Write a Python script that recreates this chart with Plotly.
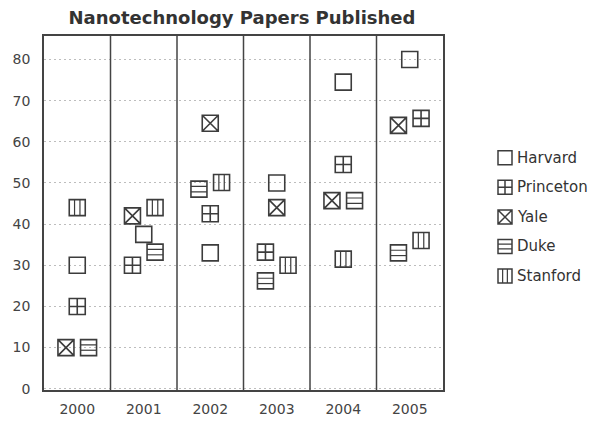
import plotly.graph_objects as go

# ---------------- data ----------------
years = ["2000", "2001", "2002", "2003", "2004", "2005"]
series_names = ["Harvard", "Princeton", "Yale", "Duke", "Stanford"]
harvard = [30, 37.5, 33, 50, 74.5, 80]
princeton = [20, 30, 42.5, 33.2, 54.5, 65.7]
yale = [10, 42, 64.5, 44, 45.7, 64]
duke = [10, 33.2, 48.5, 26.2, 45.7, 33]
stanford = [44, 44, 50.1, 30, 31.5, 36]
y_ticks = [0, 10, 20, 30, 40, 50, 60, 70, 80]
title_text = "Nanotechnology Papers Published"

series_values = [harvard, princeton, yale, duke, stanford]

# ---------------- layout constants ----------------
PAGE = 8                  # page body margin of the html page
W, H = 611 - PAGE, 423 - PAGE
PX_L, PX_R, PX_T, PX_B = 44 - PAGE, 443 - PAGE, 36 - PAGE, 396 - PAGE   # plot area (figure px)
LEG_X0, LEG_X1 = 495 - PAGE, 515 - PAGE            # legend marker column
LEG_T, LEG_B = 145 - PAGE, 295 - PAGE              # legend rows
TITLE_CX, TITLE_CY = 242 - PAGE, 18 - PAGE
Y_RANGE = [-0.4, 85.8]
MSIZE = 16
LINE_OFF = 2.7            # px offset of inner hatch lines
DODGE = 0.17              # horizontal dodge (category units) for overlapping markers
COLLIDE = 4.0             # value distance under which markers overlap
INK = "#3c3c3c"
FONT = "DejaVu Sans"

# symbol recipe: base symbol + inner-line layers (symbol, dx_px, dy_px)
recipes = {
    "Harvard": ("square-open", []),
    "Princeton": ("square-cross-open", []),
    "Yale": ("square-x-open", []),
    "Duke": ("square-open", [("line-ew", 0, LINE_OFF), ("line-ew", 0, -LINE_OFF)]),
    "Stanford": ("square-open", [("line-ns", LINE_OFF, 0), ("line-ns", -LINE_OFF, 0)]),
}

# ---------------- dodge computation ----------------
n_cat = len(years)
offsets = [[0.0] * n_cat for _ in series_values]
for j in range(n_cat):
    order = sorted(range(len(series_values)), key=lambda s: (series_values[s][j], s))
    chains, cur = [], [order[0]]
    for a, b in zip(order, order[1:]):
        if series_values[b][j] - series_values[a][j] < COLLIDE:
            cur.append(b)
        else:
            chains.append(cur)
            cur = [b]
    chains.append(cur)
    for ch in chains:
        if len(ch) > 1:
            for k, s in enumerate(ch):
                offsets[s][j] = -DODGE if k % 2 == 0 else DODGE

fig = go.Figure()
layout_axes = {}
axis_counter = [0]


def new_pair(xdom, ydom, xrange, yrange, dx=0.0, dy=0.0, main=False):
    axis_counter[0] += 1
    k = axis_counter[0]
    xn = "xaxis" if k == 1 else f"xaxis{k}"
    yn = "yaxis" if k == 1 else f"yaxis{k}"
    xr = "x" if k == 1 else f"x{k}"
    yr = "y" if k == 1 else f"y{k}"
    xd = [xdom[0] + dx / W, xdom[1] + dx / W]
    yd = [ydom[0] + dy / H, ydom[1] + dy / H]
    if not main:
        layout_axes[xn] = dict(domain=xd, range=xrange, anchor=yr, visible=False, fixedrange=True)
        layout_axes[yn] = dict(domain=yd, range=yrange, anchor=xr, visible=False, fixedrange=True)
    return xr, yr, xd, yd


main_xdom = [PX_L / W, PX_R / W]
main_ydom = [(H - PX_B) / H, (H - PX_T) / H]
main_xrange = [-0.5, n_cat - 0.5]
leg_xdom = [LEG_X0 / W, LEG_X1 / W]
leg_ydom = [(H - LEG_B) / H, (H - LEG_T) / H]
leg_xrange = [-1, 1]
leg_yrange = [len(series_names) - 0.5, -0.5]

mx, my, _, _ = new_pair(main_xdom, main_ydom, main_xrange, Y_RANGE, main=True)
lx, ly, _, _ = new_pair(leg_xdom, leg_ydom, leg_xrange, leg_yrange)

layer_cache = {}


def layer(kind, dx, dy):
    key = (kind, dx, dy)
    if key not in layer_cache:
        if kind == "main":
            layer_cache[key] = new_pair(main_xdom, main_ydom, main_xrange, Y_RANGE, dx, dy)[:2]
        else:
            layer_cache[key] = new_pair(leg_xdom, leg_ydom, leg_xrange, leg_yrange, dx, dy)[:2]
    return layer_cache[key]


for s, name in enumerate(series_names):
    vals = series_values[s]
    xs = [j + offsets[s][j] for j in range(n_cat)]
    base, extras = recipes[name]
    fig.add_trace(go.Scatter(
        x=xs, y=vals, xaxis=mx, yaxis=my, mode="markers", name=name, showlegend=False,
        marker=dict(symbol=base, size=MSIZE, color=INK, line=dict(color=INK, width=1.6)),
        hovertemplate=name + " %{customdata}: %{y}<extra></extra>", customdata=years))
    # legend marker
    fig.add_trace(go.Scatter(
        x=[0], y=[s], xaxis=lx, yaxis=ly, mode="markers", showlegend=False, hoverinfo="skip",
        marker=dict(symbol=base, size=MSIZE - 2, color=INK, line=dict(color=INK, width=1.5))))
    for sym, dx, dy in extras:
        ax_, ay_ = layer("main", dx, dy)
        fig.add_trace(go.Scatter(
            x=xs, y=vals, xaxis=ax_, yaxis=ay_, mode="markers", showlegend=False, hoverinfo="skip",
            marker=dict(symbol=sym, size=MSIZE / 1.4, color=INK, line=dict(color=INK, width=1.2))))
        bx_, by_ = layer("legend", dx * (MSIZE - 2) / MSIZE, dy * (MSIZE - 2) / MSIZE)
        fig.add_trace(go.Scatter(
            x=[0], y=[s], xaxis=bx_, yaxis=by_, mode="markers", showlegend=False, hoverinfo="skip",
            marker=dict(symbol=sym, size=(MSIZE - 2) / 1.4, color=INK, line=dict(color=INK, width=1.2))))
    fig.add_annotation(x=0, y=s, xref=lx, yref=ly, text=name, showarrow=False,
                       xanchor="left", xshift=10, font=dict(family=FONT, size=15, color="#333"))

# column dividers
for j in range(n_cat - 1):
    fig.add_shape(type="line", xref=mx, yref="y domain", x0=j + 0.5, x1=j + 0.5, y0=0, y1=1,
                  line=dict(color="#444", width=1.5), layer="above")

fig.update_layout(
    width=W, height=H,
    margin=dict(l=0, r=0, t=0, b=0, pad=0),
    paper_bgcolor="white", plot_bgcolor="rgba(0,0,0,0)",
    showlegend=False,
    title=dict(text="<b>" + title_text + "</b>", x=TITLE_CX / W, xanchor="center",
               y=1 - TITLE_CY / H, yanchor="middle", xref="paper", yref="paper",
               font=dict(family=FONT, size=18, color="#333")),
    xaxis=dict(domain=main_xdom, range=main_xrange, tickmode="array",
               tickvals=list(range(n_cat)), ticktext=years, showgrid=False, zeroline=False,
               showline=True, linecolor="#444", linewidth=1.5, mirror=True, ticks="",
               ticklabelstandoff=5, tickfont=dict(family=FONT, size=14, color="#444"),
               fixedrange=True, anchor="y"),
    yaxis=dict(domain=main_ydom, range=Y_RANGE, tickmode="array", tickvals=y_ticks,
               showgrid=True, gridcolor="#bdbdbd", griddash="2px,3px", gridwidth=1, zeroline=False,
               showline=True, linecolor="#444", linewidth=1.5, mirror=True, ticks="",
               ticklabelstandoff=9, tickfont=dict(family=FONT, size=14, color="#444"),
               fixedrange=True, anchor="x"),
    **layout_axes,
)

fig.write_html("out.html")
